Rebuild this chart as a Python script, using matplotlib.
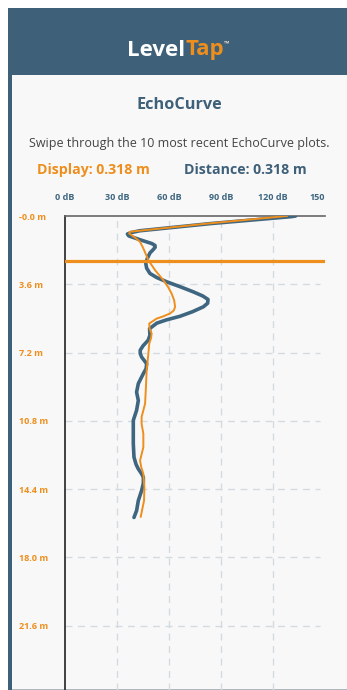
import matplotlib.pyplot as plt
from matplotlib.patches import Rectangle

# DATA
db_ticks = [0, 30, 60, 90, 120, 150]
db_labels = ['0 dB', '30 dB', '60 dB', '90 dB', '120 dB', '150']
depth_ticks = [0.0, 3.6, 7.2, 10.8, 14.4, 18.0, 21.6]
depth_labels = ['-0.0 m', '3.6 m', '7.2 m', '10.8 m', '14.4 m', '18.0 m', '21.6 m']

blue_depth = [0.0, 0.03, 0.40, 0.78, 0.88, 0.95, 1.05, 1.15, 1.31, 1.45, 1.55, 1.65, 1.78, 1.95,
              2.24, 2.50, 2.75, 3.03, 3.25, 3.47, 3.75, 4.00, 4.22, 4.40, 4.60, 4.79, 5.05,
              5.29, 5.48, 5.65, 5.94, 6.29, 6.55, 6.85, 7.08, 7.25, 7.44, 7.79, 8.05, 8.31,
              8.84, 9.29, 9.73, 10.25, 10.78, 11.31, 12.0, 12.72, 13.10, 13.34, 13.60, 13.78,
              14.10, 14.48, 15.01, 15.54, 15.90]
blue_db = [133, 131, 84, 43, 38, 36, 36.8, 40, 45.2, 50.0, 51.9, 52.0, 50.8, 49.0,
           47.5, 46.6, 47.1, 49.0, 53.0, 58.7, 67.0, 74.0, 79.5, 82.5, 82.3, 79.8, 73.5,
           66.3, 58.5, 53.0, 48.8, 49.0, 48.0, 45.0, 43.4, 43.4, 44.2, 47.1, 46.8, 45.2,
           42.3, 41.3, 42.3, 41.3, 39.4, 39.4, 39.4, 39.8, 41.0, 42.3, 44.2, 45.2,
           45.2, 44.2, 42.3, 41.3, 39.8]

orange_depth = [0.0, 0.40, 0.83, 0.92, 1.02, 1.15, 1.36, 1.71, 2.33, 2.85, 3.38, 3.75, 4.09,
                4.45, 4.79, 4.98, 5.14, 5.30, 5.41, 5.67, 5.95, 6.2, 6.45, 6.73, 7.26, 8.14,
                9.02, 9.9, 10.25, 10.6, 10.96, 11.49, 12.19, 12.9, 13.25, 13.6, 14.31, 15.01,
                15.86]
orange_db = [128, 82, 37.5, 37.0, 38.5, 40.5, 43.3, 45.2, 48.1, 51.9, 56.7, 59.5, 61.5,
             63.0, 63.5, 62.8, 60.6, 56.5, 52.9, 48.6, 48.8, 50.0, 49.6, 48.6, 48.1, 47.1,
             46.7, 46.2, 45.2, 44.2, 44.2, 45.2, 45.2, 43.3, 44.0, 45.2, 45.8, 45.6,
             43.7]

display_depth = 2.38

# COLORS
BLUE = '#3e6680'
HEADER = '#3f6079'
ORANGE = '#ee8e1c'
GRID = '#d3dbe1'

plt.rcParams['font.family'] = ['Open Sans', 'DejaVu Sans']

W, H = 347, 690
fig = plt.figure(figsize=(W / 100, H / 100), dpi=100)
fig.patch.set_facecolor('white')


def fx(px):
    return px / W


def fy(py):
    return 1 - py / H


# PANEL
fig.patches.append(Rectangle((fx(8), 0), fx(347 - 8), fy(8), transform=fig.transFigure,
                             facecolor=HEADER, edgecolor='none', zorder=-10))
fig.patches.append(Rectangle((fx(12), 0), fx(347 - 12), fy(75), transform=fig.transFigure,
                             facecolor='#f8f8f8', edgecolor='none', zorder=-9))
fig.patches.append(Rectangle((fx(12), fy(690)), fx(335), 1.2 / H, transform=fig.transFigure,
                             facecolor='#b0b8bf', edgecolor='none', zorder=-8))

# HEADER TEXT
fig.text(fx(185), fy(50), 'Level', color='white', fontsize=16, fontweight='bold',
         ha='right', va='center')
fig.text(fx(185), fy(50), 'Tap', color=ORANGE, fontsize=16, fontweight='bold',
         ha='left', va='center')
fig.text(fx(224), fy(44), '™', color='#e8d6c0', fontsize=5, fontweight='bold',
         ha='left', va='center')

fig.text(fx(179), fy(105), 'EchoCurve', color=HEADER, fontsize=11.7, fontweight='bold',
         ha='center', va='center')
fig.text(fx(179), fy(143), 'Swipe through the 10 most recent EchoCurve plots.', color='#444444',
         fontsize=9, ha='center', va='center')
fig.text(fx(37), fy(170), 'Display: 0.318 m', color=ORANGE, fontsize=10.2, fontweight='bold',
         ha='left', va='center')
fig.text(fx(184), fy(170), 'Distance: 0.318 m', color=HEADER, fontsize=10.2, fontweight='bold',
         ha='left', va='center')

# AXES
ax = fig.add_axes([fx(65), 0, fx(325 - 65), fy(216)])
ax.set_facecolor('none')
ax.set_xlim(0, 150)
ax.set_ylim(25.0, 0)

ax.plot(blue_db, blue_depth, color=BLUE, linewidth=2.6, solid_capstyle='round',
        solid_joinstyle='round', zorder=3)
ax.plot(orange_db, orange_depth, color=ORANGE, linewidth=1.4, solid_joinstyle='round', zorder=4)
ax.axhline(display_depth, color=ORANGE, linewidth=2.3, zorder=5)

for d in db_ticks[1:-1]:
    ax.axvline(d, color=GRID, linewidth=1, linestyle=(0, (5, 4)), zorder=1)
for d in depth_ticks[1:]:
    ax.plot([0, 147], [d, d], color=GRID, linewidth=1, linestyle=(0, (5, 4)), zorder=1)

ax.spines['right'].set_visible(False)
ax.spines['bottom'].set_visible(False)
ax.spines['top'].set_color('#666666')
ax.spines['top'].set_linewidth(1.2)
ax.spines['left'].set_color('#333333')
ax.spines['left'].set_linewidth(1.3)

ax.xaxis.tick_top()
ax.set_xticks(db_ticks)
ax.set_xticklabels(db_labels, color=BLUE, fontsize=6.5, fontweight='bold')
ax.tick_params(axis='x', length=0, pad=10)
ax.get_xticklabels()[-1].set_ha('right')

ax.set_yticks(depth_ticks)
ax.set_yticklabels(depth_labels, color=ORANGE, fontsize=6.5, fontweight='bold', ha='left')
ax.tick_params(axis='y', length=0, pad=33)

fig.savefig('out.png', dpi=100)
